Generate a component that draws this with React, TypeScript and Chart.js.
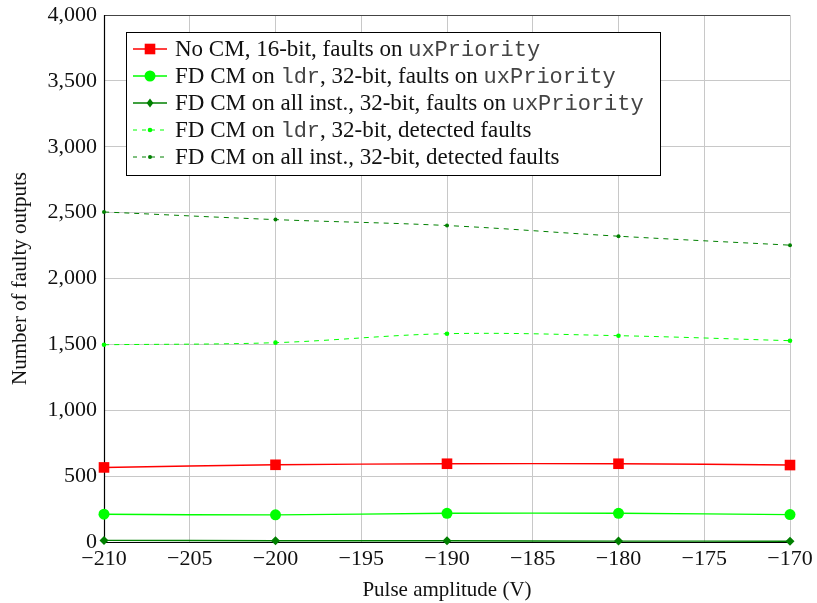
import React, { useEffect, useRef } from 'react';
import { Chart, registerables } from 'chart.js';

Chart.register(...registerables);

// Pulse amplitude (V) on the x axis
const amplitudes = [-210, -200, -190, -180, -170];

// Number of faulty outputs per configuration
const noCm16Faults = [566, 586, 594, 594, 584];
const fdLdr32Faults = [211, 206, 218, 218, 208];
const fdAll32Faults = [12, 10, 9, 7, 6];
const fdLdr32Detected = [1497, 1513, 1581, 1566, 1528];
const fdAll32Detected = [2505, 2447, 2402, 2321, 2253];

const xTickStep = 5;
const yTickStep = 500;
const yMax = 4000;

const xTitle = 'Pulse amplitude (V)';
const yTitle = 'Number of faulty outputs';

// Legend rows: text runs with a serif or monospace face
const legendRows: [string, 'serif' | 'mono'][][] = [
  [['No CM, 16-bit, faults on ', 'serif'], ['uxPriority', 'mono']],
  [['FD CM on ', 'serif'], ['ldr', 'mono'], [', 32-bit, faults on ', 'serif'], ['uxPriority', 'mono']],
  [['FD CM on all inst., 32-bit, faults on ', 'serif'], ['uxPriority', 'mono']],
  [['FD CM on ', 'serif'], ['ldr', 'mono'], [', 32-bit, detected faults', 'serif']],
  [['FD CM on all inst., 32-bit, detected faults', 'serif']],
];

const SERIF = '"Liberation Serif", "DejaVu Serif", serif';
const MONO = '"Liberation Mono", "DejaVu Sans Mono", monospace';
const TICK_SIZE = 22;
const TITLE_SIZE = 21;
const LEGEND_SIZE = 23;
const LEGEND_MONO_SIZE = 22;

const RED = '#ff0000';
const LIME = '#00ff00';
const DARK_GREEN = '#008000';

type Style = {
  color: string;
  dash: number[];
  point: 'rect' | 'circle' | 'rectRot';
  radius: number;
};

const styles: Style[] = [
  { color: RED, dash: [], point: 'rect', radius: 7.5 },
  { color: LIME, dash: [], point: 'circle', radius: 5.5 },
  { color: DARK_GREEN, dash: [], point: 'rectRot', radius: 4.5 },
  { color: LIME, dash: [5, 5], point: 'circle', radius: 2.3 },
  { color: DARK_GREEN, dash: [5, 5], point: 'circle', radius: 2 },
];

const seriesValues = [noCm16Faults, fdLdr32Faults, fdAll32Faults, fdLdr32Detected, fdAll32Detected];

function drawMarker(ctx: CanvasRenderingContext2D, s: Style, x: number, y: number) {
  ctx.save();
  ctx.fillStyle = s.color;
  ctx.beginPath();
  if (s.point === 'rect') {
    const h = s.radius * Math.SQRT1_2;
    ctx.rect(x - h, y - h, 2 * h, 2 * h);
  } else if (s.point === 'rectRot') {
    const r = s.radius;
    ctx.moveTo(x, y - r);
    ctx.lineTo(x + r * 0.75, y);
    ctx.lineTo(x, y + r);
    ctx.lineTo(x - r * 0.75, y);
    ctx.closePath();
  } else {
    ctx.arc(x, y, s.radius, 0, Math.PI * 2);
  }
  ctx.fill();
  ctx.restore();
}

const framePlugin = {
  id: 'frameAndLegend',
  beforeDatasetsDraw(chart: Chart) {
    const { ctx, chartArea } = chart;
    const { left, right, top, bottom } = chartArea;
    ctx.save();
    ctx.lineWidth = 1.2;
    // top edge in dark grey
    ctx.strokeStyle = '#444';
    ctx.beginPath();
    ctx.moveTo(left, top + 0.5);
    ctx.lineTo(right, top + 0.5);
    ctx.stroke();
    // left and bottom axis lines
    ctx.strokeStyle = '#000';
    ctx.beginPath();
    ctx.moveTo(left + 0.5, top);
    ctx.lineTo(left + 0.5, bottom + 0.5);
    ctx.lineTo(right, bottom + 0.5);
    ctx.stroke();
    ctx.restore();
  },
  afterDraw(chart: Chart) {
    const { ctx } = chart;
    const bx = 126.5;
    const by = 32.5;
    const bw = 534;
    const bh = 143;
    ctx.save();
    ctx.fillStyle = '#fff';
    ctx.fillRect(bx, by, bw, bh);
    ctx.strokeStyle = '#000';
    ctx.lineWidth = 1;
    ctx.strokeRect(bx, by, bw, bh);
    legendRows.forEach((row, i) => {
      const s = styles[i];
      const cy = 49 + i * 27;
      ctx.save();
      ctx.strokeStyle = s.color;
      ctx.lineWidth = s.dash.length ? 1 : 1.4;
      ctx.setLineDash(s.dash.length ? [4, 5] : []);
      ctx.beginPath();
      ctx.moveTo(133, cy);
      ctx.lineTo(167, cy);
      ctx.stroke();
      ctx.restore();
      drawMarker(ctx, s, 150, cy);
      let tx = 175;
      ctx.textBaseline = 'middle';
      ctx.textAlign = 'left';
      row.forEach(([text, face]) => {
        ctx.font = face === 'mono' ? `${LEGEND_MONO_SIZE}px ${MONO}` : `${LEGEND_SIZE}px ${SERIF}`;
        ctx.fillStyle = face === 'mono' ? '#444' : '#111';
        ctx.fillText(text, tx, cy + 1);
        tx += ctx.measureText(text).width;
      });
    });
    ctx.restore();
  },
};

export default function App() {
  const canvasRef = useRef<HTMLCanvasElement | null>(null);

  useEffect(() => {
    const canvas = canvasRef.current;
    if (!canvas) return;
    const chart = new Chart(canvas, {
      type: 'line',
      data: {
        datasets: seriesValues.map((vals, i) => ({
          label: `series ${i + 1}`,
          data: amplitudes.map((x, j) => ({ x, y: vals[j] })),
          borderColor: styles[i].color,
          backgroundColor: styles[i].color,
          borderWidth: styles[i].dash.length ? 1 : 1.4,
          borderDash: styles[i].dash,
          pointStyle: styles[i].point,
          pointRadius: styles[i].radius,
          pointBorderWidth: 0,
          tension: 0.35,
          fill: false,
          clip: false,
        })),
      },
      options: {
        animation: false,
        responsive: false,
        devicePixelRatio: 1,
        layout: { padding: { top: 15, right: 27, left: 0, bottom: 0 } },
        plugins: {
          legend: { display: false },
          tooltip: { enabled: false },
        },
        scales: {
          x: {
            type: 'linear',
            min: amplitudes[0],
            max: amplitudes[amplitudes.length - 1],
            ticks: {
              stepSize: xTickStep,
              font: { family: SERIF, size: TICK_SIZE },
              color: '#111',
              padding: 4,
              maxRotation: 0,
              autoSkip: false,
              callback: (v: any) => String(v).replace('-', '\u2212'),
            },
            grid: { color: '#c8c8c8', drawTicks: false, lineWidth: 1 },
            border: { display: false },
            title: {
              display: true,
              text: xTitle,
              font: { family: SERIF, size: TITLE_SIZE },
              color: '#111',
              padding: { top: 0, bottom: 0 },
            },
            afterFit: (scale: any) => {
              scale.height = 61;
              scale.paddingLeft = 0;
              scale.paddingRight = 0;
            },
          },
          y: {
            min: 0,
            max: yMax,
            ticks: {
              stepSize: yTickStep,
              font: { family: SERIF, size: TICK_SIZE },
              color: '#111',
              padding: 7,
              callback: (v: any) => Number(v).toLocaleString('en-US'),
            },
            grid: { color: '#c8c8c8', drawTicks: false, lineWidth: 1 },
            border: { display: false },
            title: {
              display: true,
              text: yTitle,
              font: { family: SERIF, size: TITLE_SIZE },
              color: '#111',
              padding: { top: 8, bottom: 8 },
            },
            afterFit: (scale: any) => {
              scale.width = 104;
              scale.paddingTop = 0;
              scale.paddingBottom = 0;
            },
          },
        },
      },
      plugins: [framePlugin],
    });
    return () => chart.destroy();
  }, []);

  return (
    <div style={{ position: 'absolute', left: 0, top: 0, width: 817, height: 603, background: '#fff' }}>
      <canvas ref={canvasRef} width={817} height={603} />
    </div>
  );
}
